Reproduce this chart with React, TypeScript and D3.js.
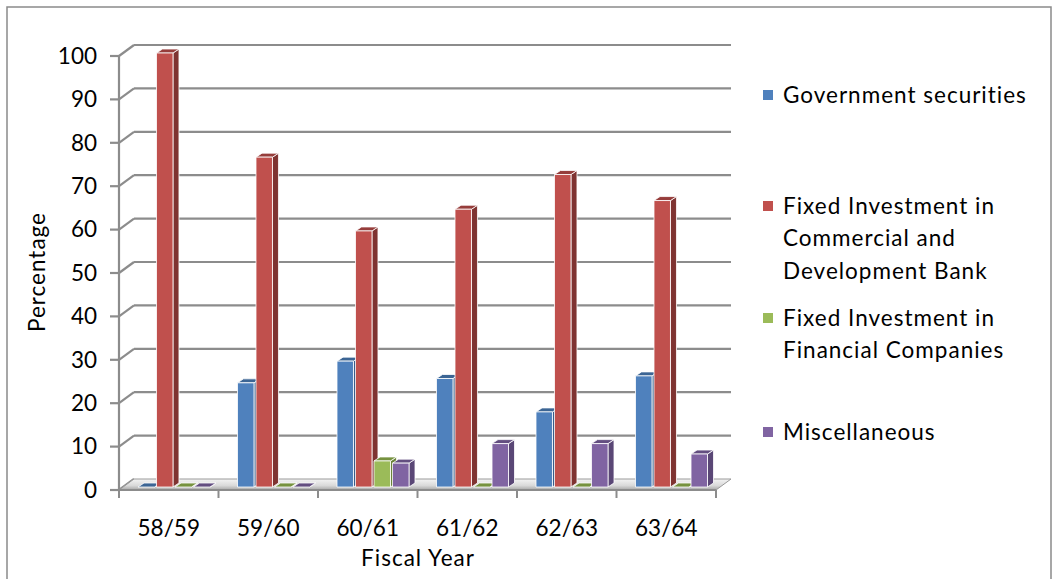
import React from 'react';
import * as d3 from 'd3';

// chart values
const categories = ['58/59', '59/60', '60/61', '61/62', '62/63', '63/64'];
const seriesNames = [
  'Government securities',
  'Fixed Investment in Commercial and Development Bank',
  'Fixed Investment in Financial Companies',
  'Miscellaneous',
];
const govSecurities = [0, 24, 29, 25, 17.3, 25.6];
const fixedCommercial = [100, 76, 59, 64, 72, 66];
const fixedFinancial = [0, 0, 6, 0, 0, 0];
const miscellaneous = [0, 0, 5.5, 10, 10, 7.6];
const yTicks = [0, 10, 20, 30, 40, 50, 60, 70, 80, 90, 100];

// legend text lines per series
const legendLines = [
  ['Government securities'],
  ['Fixed Investment in', 'Commercial and', 'Development Bank'],
  ['Fixed Investment in', 'Financial Companies'],
  ['Miscellaneous'],
];

const front = ['#4F81BD', '#C0504D', '#9BBB59', '#8064A2'];
const side = ['#385D8A', '#7F3331', '#6A8239', '#5A4776'];
const top = ['#3C6594', '#963D3B', '#76923F', '#634E80'];

const FONT = 'Lato, "Open Sans", sans-serif';
const FS = 22.5;

export default function App() {
  const width = 1058;
  const height = 579;

  // front plane
  const left = 119;
  const right = 716;
  // wall depth offset
  const wx = 15;
  const wy = 11;
  // bar depth
  const bx = 6;
  const by = 4;

  const y = d3.scaleLinear().domain([0, 100]).range([490, 56]);
  const x0 = d3.scaleBand<string>().domain(categories).range([left, right]);
  const x1 = d3
    .scaleBand<string>()
    .domain(seriesNames)
    .range([0, 72])
    .paddingInner(0.11)
    .paddingOuter(0);

  const values = [govSecurities, fixedCommercial, fixedFinancial, miscellaneous];
  const y0 = y(0);

  const bars: React.ReactNode[] = [];
  categories.forEach((c, ci) => {
    seriesNames.forEach((s, si) => {
      const v = values[si][ci];
      const xl = x0(c)! + 19 + x1(s)!;
      const w = x1.bandwidth();
      const b = y0 - 3;
      const t = y(v) - 3;
      bars.push(
        <g key={`${ci}-${si}`} stroke="#fff" strokeWidth={0.8} strokeLinejoin="round">
          <polygon
            points={`${xl + w},${t} ${xl + w + bx},${t - by} ${xl + w + bx},${b - by} ${xl + w},${b}`}
            fill={side[si]}
          />
          <polygon
            points={`${xl},${t} ${xl + bx},${t - by} ${xl + w + bx},${t - by} ${xl + w},${t}`}
            fill={top[si]}
          />
          {v > 0 && <rect x={xl} y={t} width={w} height={b - t} fill={front[si]} />}
        </g>,
      );
    });
  });

  const gridColor = '#8c8c8c';

  return (
    <svg
      width={width}
      height={height}
      style={{ position: 'absolute', left: 0, top: 0, background: '#fff' }}
    >
      <defs>
        <linearGradient id="floorGrad" x1="0" x2="0" y1="0" y2="1">
          <stop offset="0" stopColor="#f4f4f4" />
          <stop offset="0.6" stopColor="#d9d9d9" />
          <stop offset="1" stopColor="#a6a6a6" />
        </linearGradient>
      </defs>
      <rect x={7} y={7} width={1044} height={600} fill="none" stroke="#8a8a8a" strokeWidth={1.5} />

      {/* back wall gridlines and left wall diagonals */}
      {yTicks.map((t) => (
        <g key={t} stroke={gridColor} strokeWidth={2.2} fill="none">
          {t > 0 && <line x1={left + wx} x2={right + wx} y1={y(t) - wy} y2={y(t) - wy} />}
          <line x1={left} y1={y(t)} x2={left + wx} y2={y(t) - wy} />
          <line x1={left - 9} x2={left} y1={y(t)} y2={y(t)} />
        </g>
      ))}

      {/* floor */}
      <polygon
        points={`${left},${y0} ${right},${y0} ${right + wx},${y0 - wy} ${left + wx},${y0 - wy}`}
        fill="url(#floorGrad)"
        stroke="#9a9a9a"
        strokeWidth={1}
      />

      {/* front y axis */}
      <line x1={left} x2={left} y1={y(100)} y2={y0} stroke={gridColor} strokeWidth={2.2} />
      {/* front x axis */}
      <line x1={left} x2={right} y1={y0} y2={y0} stroke={gridColor} strokeWidth={2.2} />
      {categories.concat(['']).map((c, i) => {
        const xx = i < categories.length ? x0(c)! : right;
        return (
          <line key={i} x1={xx} x2={xx} y1={y0} y2={y0 + 8} stroke={gridColor} strokeWidth={2} />
        );
      })}

      {bars}

      {/* y tick labels */}
      {yTicks.map((t) => (
        <text
          key={t}
          x={97}
          y={y(t)}
          dy="0.35em"
          textAnchor="end"
          fontFamily={FONT}
          fontSize={FS}
          fill="#000"
        >
          {t}
        </text>
      ))}

      {/* x tick labels */}
      {categories.map((c) => (
        <text
          key={c}
          x={x0(c)! + x0.bandwidth() / 2}
          y={528}
          dy="0.35em"
          textAnchor="middle"
          fontFamily={FONT}
          fontSize={FS}
          fill="#000"
        >
          {c}
        </text>
      ))}

      <text
        x={418}
        y={558}
        dy="0.35em"
        textAnchor="middle"
        fontFamily={FONT}
        fontSize={FS}
        letterSpacing={1}
      >
        Fiscal Year
      </text>
      <text
        transform={`translate(37,272) rotate(-90)`}
        dy="0.35em"
        textAnchor="middle"
        fontFamily={FONT}
        fontSize={FS}
        letterSpacing={1}
      >
        Percentage
      </text>

      {/* legend */}
      {legendLines.map((lines, i) => {
        const ys = [95, 206, 318, 432][i];
        return (
          <g key={i}>
            <rect x={763} y={ys - 5} width={10} height={10} fill={front[i]} />
            {lines.map((ln, j) => (
              <text
                key={j}
                x={783}
                y={ys + j * 32.5}
                dy="0.35em"
                fontFamily={FONT}
                fontSize={FS}
                letterSpacing={1}
                fill="#000"
              >
                {ln}
              </text>
            ))}
          </g>
        );
      })}
    </svg>
  );
}
